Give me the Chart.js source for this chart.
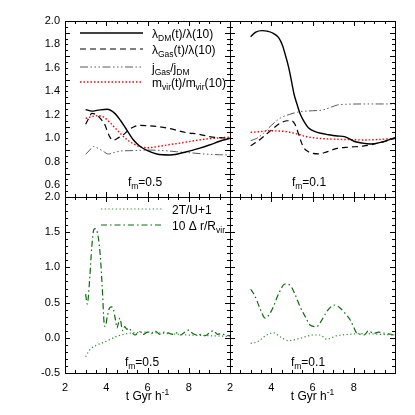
<!DOCTYPE html>
<html>
<head>
<meta charset="utf-8">
<script src="https://cdn.jsdelivr.net/npm/chart.js@4.4.0/dist/chart.umd.min.js"></script>
<style>
  body { margin: 0; background: #fff; }
  #wrap { position: relative; width: 415px; height: 415px; }
  canvas { position: absolute; left: 0; top: 0; }
</style>
</head>
<body>
<div id="wrap">
  <canvas id="c1" width="415" height="415"></canvas>
  <canvas id="c2" width="415" height="415"></canvas>
  <canvas id="c3" width="415" height="415"></canvas>
  <canvas id="c4" width="415" height="415"></canvas>
</div>
<script>
// data, f_m = 0.5 (top left)
const lamDM05T = [3.0, 3.3, 3.6, 4.05, 4.4, 4.7, 5.0, 5.3, 5.65, 6.0, 6.45, 7.1, 7.9, 8.5, 9.0, 9.5, 10];
const lamDM05 = [1.245, 1.232, 1.24, 1.248, 1.215, 1.15, 1.07, 0.99, 0.93, 0.895, 0.866, 0.858, 0.886, 0.915, 0.943, 0.975, 1.0];
const lamGas05T = [3.0, 3.15, 3.3, 3.6, 3.8, 3.95, 4.05, 4.18, 4.3, 4.45, 4.6, 4.83, 5.08, 5.3, 5.6, 5.95, 6.5, 7.0, 7.9, 8.5, 9.0, 10];
const lamGas05 = [1.12, 1.17, 1.213, 1.19, 1.15, 1.11, 1.06, 1.01, 0.986, 0.99, 1.006, 1.03, 1.071, 1.095, 1.11, 1.108, 1.1, 1.086, 1.048, 1.035, 1.014, 1.0];
const jGas05T = [3.0, 3.2, 3.37, 3.6, 3.85, 4.1, 4.4, 4.7, 5.2, 6.0, 6.8, 7.4, 8.2, 8.8, 9.5, 10];
const jGas05 = [0.864, 0.9, 0.93, 0.915, 0.89, 0.866, 0.88, 0.892, 0.895, 0.9, 0.895, 0.886, 0.875, 0.866, 0.86, 0.858];
const mvir05T = [3.0, 3.3, 3.6, 3.9, 4.15, 4.45, 4.75, 5.0, 5.3, 5.6, 6.0, 6.5, 7.0, 7.6, 8.5, 9.2, 10];
const mvir05 = [1.17, 1.185, 1.193, 1.178, 1.14, 1.085, 1.03, 0.99, 0.955, 0.93, 0.92, 0.93, 0.945, 0.96, 0.986, 1.0, 1.01];

// data, f_m = 0.1 (top right)
const lamDM01T = [3.0, 3.25, 3.55, 3.85, 4.1, 4.35, 4.55, 4.7, 4.85, 5.0, 5.1, 5.25, 5.4, 5.6, 5.8, 6.1, 6.4, 6.8, 7.2, 7.55, 7.8, 8.0, 8.4, 8.8, 9.3, 10];
const lamDM01 = [1.866, 1.905, 1.918, 1.912, 1.895, 1.86, 1.79, 1.7, 1.6, 1.47, 1.38, 1.29, 1.21, 1.14, 1.09, 1.06, 1.043, 1.03, 1.02, 1.014, 0.995, 0.975, 0.96, 0.952, 0.965, 1.006];
const lamGas01T = [3.0, 3.3, 3.62, 4.0, 4.43, 4.8, 5.0, 5.15, 5.3, 5.45, 5.6, 5.8, 6.0, 6.3, 6.7, 7.2, 7.8, 8.5, 9.2, 10];
const lamGas01 = [0.937, 0.97, 1.014, 1.07, 1.128, 1.15, 1.148, 1.12, 1.05, 0.97, 0.915, 0.886, 0.872, 0.867, 0.885, 0.915, 0.925, 0.935, 0.96, 1.0];
const jGas01T = [3.0, 3.3, 3.62, 4.0, 4.43, 4.9, 5.4, 6.0, 6.5, 6.9, 7.2, 7.6, 8.5, 9.2, 10];
const jGas01 = [0.98, 1.0, 1.043, 1.11, 1.171, 1.205, 1.227, 1.235, 1.242, 1.265, 1.284, 1.29, 1.293, 1.293, 1.293];
const mvir01T = [3.0, 3.5, 3.94, 4.4, 4.75, 5.2, 5.72, 6.3, 7.18, 8.0, 8.47, 9.2, 10];
const mvir01 = [1.051, 1.058, 1.065, 1.062, 1.057, 1.04, 1.014, 1.0, 0.992, 0.988, 0.986, 0.99, 1.0];

// virial ratio and centre offset, f_m = 0.5 (bottom left)
const vir05T = [3.0, 3.2, 3.5, 4.0, 4.5, 5.0, 5.5, 6.0, 6.5, 7.0, 8.0, 9.0, 10];
const vir05 = [-0.27, -0.17, -0.11, -0.05, 0.02, 0.06, 0.075, 0.08, 0.07, 0.06, 0.04, 0.03, 0.02];
const dr05T = [3.0, 3.08, 3.2, 3.3, 3.4, 3.48, 3.6, 3.7, 3.8, 3.9, 3.95, 4.05, 4.15, 4.25, 4.35, 4.45, 4.52, 4.6, 4.67, 4.75, 4.8, 4.9, 5.0, 5.1, 5.2, 5.3, 5.4, 5.6, 5.8, 6.0, 6.2, 6.4, 6.6, 6.8, 7.0, 7.2, 7.4, 7.6, 7.8, 8.0, 8.2, 8.4, 8.6, 8.8, 9.0, 9.2, 9.4, 9.6, 9.8, 10];
const dr05 = [0.62, 0.48, 0.85, 1.3, 1.54, 1.55, 1.45, 1.2, 0.75, 0.2, 0.16, 0.3, 0.42, 0.44, 0.4, 0.25, 0.14, 0.22, 0.28, 0.15, 0.1, 0.16, 0.12, 0.14, 0.1, 0.06, 0.04, 0.09, 0.05, 0.08, 0.06, 0.09, 0.05, 0.08, 0.07, 0.05, 0.07, 0.04, 0.08, 0.11, 0.06, 0.04, 0.05, 0.03, 0.07, 0.1, 0.05, 0.06, 0.03, 0.03];

// virial ratio and centre offset, f_m = 0.1 (bottom right)
const vir01T = [3.0, 3.3, 3.78, 4.1, 4.43, 4.83, 5.4, 6.04, 6.37, 6.69, 7.18, 7.83, 8.47, 9.2, 10];
const vir01 = [-0.078, -0.06, 0.04, 0.072, 0.015, -0.04, -0.007, 0.04, 0.04, -0.02, 0.03, 0.05, 0.06, 0.05, 0.04];
const dr01T = [3.0, 3.2, 3.45, 3.7, 3.9, 4.1, 4.35, 4.67, 4.9, 5.15, 5.4, 5.65, 5.88, 6.2, 6.45, 6.69, 6.9, 7.1, 7.35, 7.58, 7.83, 8.0, 8.15, 8.35, 8.5, 8.72, 8.96, 9.2, 9.4, 9.6, 9.8, 10];
const dr01 = [0.69, 0.6, 0.42, 0.28, 0.33, 0.44, 0.62, 0.764, 0.75, 0.62, 0.44, 0.3, 0.182, 0.158, 0.25, 0.371, 0.44, 0.466, 0.42, 0.348, 0.253, 0.15, 0.064, 0.05, 0.04, 0.1, 0.06, 0.08, 0.07, 0.06, 0.05, 0.03];

const topTicks = [0.6, 0.8, 1.0, 1.2, 1.4, 1.6, 1.8, 2.0];
const bottomTicks = [-0.5, 0.0, 0.5, 1.0, 1.5, 2.0];

const FONT = '"Liberation Sans", Arial, Helvetica, sans-serif';

const styles = {
  lamDM: { color: '#000', width: 1.4, dash: [] },
  lamGas: { color: '#000', width: 1.2, dash: [6, 4] },
  jGas: { color: '#5a5a5a', width: 1, dash: [8, 2.5, 1.5, 2.5, 1.5, 2.5, 1.5, 2.5] },
  mvir: { color: '#ff0000', width: 1.4, dash: [1.5, 2] },
  vir: { color: '#2a8a2a', width: 1.2, dash: [1.2, 2.5] },
  dr: { color: '#0d6a0d', width: 1.2, dash: [6, 3, 1.5, 3] },
};

function series(t, v, s) {
  const st = styles[s];
  return {
    data: t.map((x, i) => ({ x, y: v[i] })),
    borderColor: st.color,
    borderWidth: st.width,
    borderDash: st.dash,
    pointRadius: 0,
    fill: false,
  };
}

function richText(ctx, x, y, parts, align) {
  const fontOf = k => (k ? '8.5px ' : '12px ') + FONT;
  if (align === 'center') {
    let w = 0;
    for (const [txt, k] of parts) { ctx.font = fontOf(k); w += ctx.measureText(txt).width; }
    x -= w / 2;
  }
  for (const [txt, k] of parts) {
    ctx.font = fontOf(k);
    const dy = k === 'sub' ? 3 : k === 'sup' ? -5 : 0;
    ctx.fillText(txt, x, y + dy);
    x += ctx.measureText(txt).width;
  }
}

// inward ticks on all four sides, frame, labels and legend
const decor = {
  id: 'decor',
  afterDraw(chart, args, o) {
    const { ctx, chartArea: a, scales: { x, y } } = chart;
    ctx.save();
    ctx.strokeStyle = '#000';
    ctx.lineWidth = 1;
    ctx.setLineDash([]);
    ctx.strokeRect(a.left + 0.5, a.top + 0.5, a.right - a.left, a.bottom - a.top);
    ctx.beginPath();
    for (let v = 2; v <= 10.001; v += 0.5) {
      const px = Math.round(x.getPixelForValue(v)) + 0.5;
      const len = Math.abs(v % 2) < 1e-6 ? 5 : 3;
      ctx.moveTo(px, a.bottom); ctx.lineTo(px, a.bottom - len);
      ctx.moveTo(px, a.top); ctx.lineTo(px, a.top + len);
    }
    const n = Math.round((o.yMax - o.yMin) / o.yMinor);
    for (let i = 0; i <= n; i++) {
      const v = o.yMin + i * o.yMinor;
      const py = Math.round(y.getPixelForValue(v)) + 0.5;
      const len = i % o.perMajor === 0 ? 5 : 3;
      ctx.moveTo(a.left, py); ctx.lineTo(a.left + len, py);
      ctx.moveTo(a.right, py); ctx.lineTo(a.right - len, py);
    }
    ctx.stroke();

    ctx.fillStyle = '#000';
    ctx.textBaseline = 'alphabetic';
    for (const it of o.texts || []) richText(ctx, it.x, it.y, it.parts, it.align);

    for (const it of o.legend || []) {
      const st = styles[it.s];
      ctx.strokeStyle = st.color;
      ctx.lineWidth = st.width;
      ctx.setLineDash(st.dash);
      ctx.beginPath();
      ctx.moveTo(it.x1, it.y); ctx.lineTo(it.x2, it.y);
      ctx.stroke();
      ctx.fillStyle = '#000';
      richText(ctx, it.x2 + 9, it.y + 4.5, it.parts);
    }
    ctx.restore();
  }
};

function panel(id, o) {
  return new Chart(document.getElementById(id), {
    type: 'line',
    data: { datasets: o.datasets },
    options: {
      responsive: false,
      animation: false,
      layout: { padding: o.pad },
      elements: { line: { tension: 0.4, cubicInterpolationMode: 'monotone' } },
      scales: {
        x: {
          type: 'linear', min: 2, max: 10, display: o.showX,
          grid: { display: false, drawTicks: false },
          border: { display: false },
          ticks: {
            stepSize: 2, padding: 8, color: '#000',
            font: { family: FONT, size: 11 },
            callback: v => (v === 10 ? '' : v),
          },
          afterFit: s => { s.height = o.showX ? 42 : 0; },
        },
        y: {
          type: 'linear', min: o.yMin, max: o.yMax, display: o.showY,
          grid: { display: false, drawTicks: false },
          border: { display: false },
          afterBuildTicks: s => { s.ticks = o.yTicks.map(v => ({ value: v })); },
          ticks: {
            padding: 5, color: '#000',
            font: { family: FONT, size: 11 },
            callback: v => v.toFixed(1),
          },
          afterFit: s => { s.width = o.showY ? 65 : 0; },
        },
      },
      plugins: {
        legend: { display: false },
        tooltip: { enabled: false },
        decor: {
          yMin: o.yMin, yMax: o.yMax, yMinor: o.yMinor, perMajor: o.perMajor,
          texts: o.texts, legend: o.legend,
        },
      },
    },
    plugins: [decor],
  });
}

const xTitle = cx => ({ x: cx, y: 400, align: 'center', parts: [['t Gyr h'], ['-1', 'sup']] });

panel('c1', {
  pad: { left: 0, right: 185, top: 21, bottom: 218 },
  showX: false, showY: true,
  yMin: 0.5, yMax: 2.0, yMinor: 0.05, perMajor: 4, yTicks: topTicks,
  datasets: [
    series(lamDM05T, lamDM05, 'lamDM'),
    series(lamGas05T, lamGas05, 'lamGas'),
    series(jGas05T, jGas05, 'jGas'),
    series(mvir05T, mvir05, 'mvir'),
  ],
  texts: [{ x: 145, y: 186, align: 'center', parts: [['f'], ['m', 'sub'], ['=0.5']] }],
  legend: [
    { s: 'lamDM', x1: 80, x2: 143, y: 33, parts: [['λ'], ['DM', 'sub'], ['(t)/λ(10)']] },
    { s: 'lamGas', x1: 80, x2: 143, y: 49, parts: [['λ'], ['Gas', 'sub'], ['(t)/λ(10)']] },
    { s: 'jGas', x1: 80, x2: 143, y: 67, parts: [['j'], ['Gas', 'sub'], ['/j'], ['DM', 'sub']] },
    { s: 'mvir', x1: 80, x2: 143, y: 82, parts: [['m'], ['vir', 'sub'], ['(t)/m'], ['vir', 'sub'], ['(10)']] },
  ],
});

panel('c2', {
  pad: { left: 230, right: 20, top: 21, bottom: 218 },
  showX: false, showY: false,
  yMin: 0.5, yMax: 2.0, yMinor: 0.05, perMajor: 4, yTicks: topTicks,
  datasets: [
    series(lamDM01T, lamDM01, 'lamDM'),
    series(lamGas01T, lamGas01, 'lamGas'),
    series(jGas01T, jGas01, 'jGas'),
    series(mvir01T, mvir01, 'mvir'),
  ],
  texts: [{ x: 309, y: 186, align: 'center', parts: [['f'], ['m', 'sub'], ['=0.1']] }],
});

panel('c3', {
  pad: { left: 0, right: 185, top: 197, bottom: 0 },
  showX: true, showY: true,
  yMin: -0.5, yMax: 2.0, yMinor: 0.1, perMajor: 5, yTicks: bottomTicks,
  datasets: [
    series(vir05T, vir05, 'vir'),
    series(dr05T, dr05, 'dr'),
  ],
  texts: [
    { x: 142, y: 366, align: 'center', parts: [['f'], ['m', 'sub'], ['=0.5']] },
    xTitle(147.5),
  ],
  legend: [
    { s: 'vir', x1: 101, x2: 163, y: 209, parts: [['2T/U+1']] },
    { s: 'dr', x1: 101, x2: 163, y: 225, parts: [['10 Δ r/R'], ['vir', 'sub']] },
  ],
});

panel('c4', {
  pad: { left: 230, right: 20, top: 197, bottom: 0 },
  showX: true, showY: false,
  yMin: -0.5, yMax: 2.0, yMinor: 0.1, perMajor: 5, yTicks: bottomTicks,
  datasets: [
    series(vir01T, vir01, 'vir'),
    series(dr01T, dr01, 'dr'),
  ],
  texts: [
    { x: 308, y: 366, align: 'center', parts: [['f'], ['m', 'sub'], ['=0.1']] },
    xTitle(312.5),
  ],
});
</script>
</body>
</html>
